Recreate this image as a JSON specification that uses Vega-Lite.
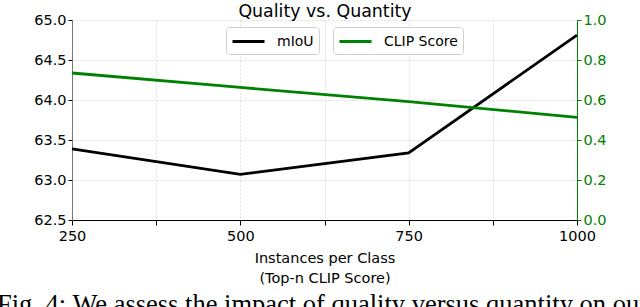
{
  "$schema": "https://vega.github.io/schema/vega-lite/v6.json",
  "width": 505,
  "height": 200,
  "autosize": {"type": "none"},
  "padding": {"left": 72, "top": 20, "right": 63, "bottom": 87},
  "title": {
    "text": "Fig. 4: We assess the impact of quality versus quantity on our",
    "orient": "bottom",
    "font": "Liberation Serif",
    "fontSize": 26.5,
    "fontWeight": "normal",
    "color": "black",
    "anchor": "middle",
    "baseline": "alphabetic",
    "offset": 28,
    "dx": -2
  },
  "config": {"view": {"stroke": null}, "font": "DejaVu Sans"},
  "data": {
    "values": [
      {"n": 250, "mIoU": 63.39, "clip": 0.735},
      {"n": 500, "mIoU": 63.07, "clip": 0.663},
      {"n": 750, "mIoU": 63.34, "clip": 0.592},
      {"n": 1000, "mIoU": 64.81, "clip": 0.513}
    ]
  },
  "layer": [
    {
      "mark": {"type": "line", "strokeWidth": 2.8},
      "encoding": {
        "x": {
          "field": "n",
          "type": "quantitative",
          "scale": {"domain": [250, 1000], "nice": false, "zero": false},
          "axis": {
            "orient": "bottom",
            "values": [250, 375, 500, 625, 750, 875, 1000],
            "format": "d",
            "labelExpr": "datum.value % 250 === 0 ? datum.label : ''",
            "title": ["Instances per Class", "(Top-n CLIP Score)"],
            "titleFontSize": 14.5,
            "titleFontWeight": "normal",
            "titleColor": "black",
            "titleLineHeight": 20,
            "titlePadding": 9,
            "labelFontSize": 14.5,
            "labelColor": "black",
            "labelFlush": false,
            "labelOverlap": false,
            "labelPadding": 4,
            "tickColor": "black",
            "tickSize": 5,
            "domainColor": "black",
            "grid": true,
            "gridDash": [2, 2],
            "gridColor": "#dcdcdc"
          }
        },
        "y": {
          "field": "mIoU",
          "type": "quantitative",
          "scale": {"domain": [62.5, 65], "nice": false, "zero": false},
          "axis": {
            "orient": "left",
            "values": [62.5, 63, 63.5, 64, 64.5, 65],
            "format": ".1f",
            "title": null,
            "labelFontSize": 14.5,
            "labelColor": "black",
            "labelPadding": 2,
            "labelFlush": false,
            "labelOverlap": false,
            "tickColor": "black",
            "tickSize": 4,
            "domainColor": "#777777",
            "grid": true,
            "gridDash": [2, 2],
            "gridColor": "#dcdcdc"
          }
        },
        "color": {
          "datum": "mIoU",
          "type": "nominal",
          "scale": {"domain": ["mIoU"], "range": ["black"]},
          "legend": {
            "orient": "none",
            "legendX": 154,
            "legendY": 7,
            "title": null,
            "symbolType": "M-1,0H3",
            "symbolSize": 256,
            "symbolStrokeWidth": 3,
            "symbolFillColor": "transparent",
            "labelFontSize": 14,
            "labelColor": "black",
            "labelOffset": 27,
            "padding": 5,
            "strokeColor": "#d0d0d0",
            "fillColor": "white",
            "cornerRadius": 3
          }
        }
      }
    },
    {
      "mark": {"type": "line", "strokeWidth": 2.8},
      "encoding": {
        "x": {
          "field": "n",
          "type": "quantitative",
          "axis": {
            "orient": "top",
            "title": "Quality vs. Quantity",
            "labels": false,
            "ticks": false,
            "domain": false,
            "grid": false,
            "titleFontSize": 17.4,
            "titleFontWeight": "normal",
            "titleColor": "black",
            "titlePadding": 4,
            "titleBaseline": "alphabetic"
          }
        },
        "y": {
          "field": "clip",
          "type": "quantitative",
          "scale": {"domain": [0, 1], "nice": false},
          "axis": {
            "orient": "right",
            "values": [0, 0.2, 0.4, 0.6, 0.8, 1.0],
            "format": ".1f",
            "title": null,
            "labelFontSize": 14.5,
            "labelColor": "#008000",
            "labelPadding": 2,
            "labelFlush": false,
            "labelOverlap": false,
            "tickColor": "#008000",
            "tickSize": 4,
            "domainColor": "#008000",
            "grid": false
          }
        },
        "color": {
          "datum": "CLIP Score",
          "type": "nominal",
          "scale": {"domain": ["CLIP Score"], "range": ["#008000"]},
          "legend": {
            "orient": "none",
            "legendX": 261,
            "legendY": 7,
            "title": null,
            "symbolType": "M-1,0H3",
            "symbolSize": 256,
            "symbolStrokeWidth": 3,
            "symbolFillColor": "transparent",
            "labelFontSize": 14,
            "labelColor": "black",
            "labelOffset": 27,
            "padding": 5,
            "strokeColor": "#d0d0d0",
            "fillColor": "white",
            "cornerRadius": 3
          }
        }
      }
    }
  ],
  "resolve": {
    "scale": {"y": "independent", "color": "independent"},
    "axis": {"x": "independent"}
  }
}
